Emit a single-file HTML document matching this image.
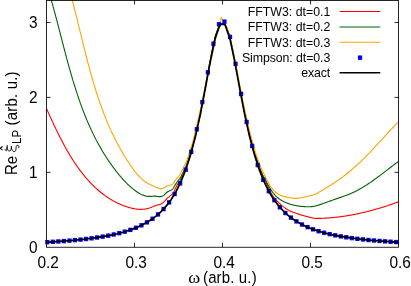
<!DOCTYPE html>
<html><head><meta charset="utf-8"><style>
html,body{margin:0;padding:0;background:#fff;}
svg{display:block;font-family:"Liberation Sans",sans-serif;will-change:transform;}
</style></head><body>
<svg width="411" height="286" viewBox="0 0 411 286">
<rect width="411" height="286" fill="#fff"/>
<defs><clipPath id="c"><rect x="46.5" y="0.0" width="352.0" height="247.25"/></clipPath></defs>
<g clip-path="url(#c)">
<path d="M46.57,108.59 L46.72,108.93 L46.87,109.27 L47.02,109.61 L47.17,109.95 L47.33,110.29 L47.48,110.64 L47.63,110.98 L47.79,111.32 L47.94,111.66 L48.09,112.01 L48.25,112.35 L48.40,112.70 L48.56,113.04 L48.71,113.39 L48.87,113.74 L49.02,114.08 L49.18,114.43 L49.34,114.78 L49.49,115.13 L49.65,115.48 L49.81,115.83 L49.97,116.18 L50.12,116.53 L50.28,116.88 L50.44,117.23 L50.60,117.58 L50.76,117.93 L50.92,118.28 L51.08,118.64 L51.24,118.99 L51.41,119.34 L51.57,119.70 L51.73,120.05 L51.89,120.40 L52.06,120.76 L52.22,121.11 L52.38,121.47 L52.55,121.82 L52.71,122.18 L52.88,122.54 L53.04,122.89 L53.21,123.25 L53.37,123.61 L53.54,123.96 L53.71,124.32 L53.88,124.68 L54.04,125.04 L54.21,125.40 L54.38,125.76 L54.55,126.11 L54.72,126.47 L54.89,126.83 L55.06,127.19 L55.23,127.55 L55.40,127.91 L55.57,128.27 L55.75,128.63 L55.92,128.99 L56.09,129.35 L56.27,129.71 L56.44,130.07 L56.61,130.44 L56.79,130.80 L56.96,131.16 L57.14,131.52 L57.32,131.88 L57.49,132.24 L57.67,132.60 L57.85,132.96 L58.03,133.33 L58.21,133.69 L58.39,134.05 L58.57,134.41 L58.75,134.77 L58.93,135.14 L59.11,135.50 L59.29,135.86 L59.47,136.22 L59.65,136.58 L59.84,136.94 L60.02,137.31 L60.21,137.67 L60.39,138.03 L60.58,138.39 L60.76,138.75 L60.95,139.12 L61.14,139.48 L61.32,139.84 L61.51,140.20 L61.70,140.56 L61.89,140.92 L62.08,141.29 L62.27,141.65 L62.46,142.01 L62.65,142.37 L62.84,142.73 L63.03,143.09 L63.23,143.45 L63.42,143.81 L63.61,144.17 L63.81,144.53 L64.00,144.89 L64.20,145.25 L64.39,145.61 L64.59,145.97 L64.79,146.33 L64.99,146.69 L65.18,147.05 L65.38,147.40 L65.58,147.76 L65.78,148.12 L65.98,148.48 L66.19,148.84 L66.39,149.19 L66.59,149.55 L66.79,149.91 L67.00,150.26 L67.20,150.62 L67.41,150.97 L67.61,151.33 L67.82,151.69 L68.02,152.04 L68.23,152.39 L68.44,152.75 L68.65,153.10 L68.86,153.46 L69.07,153.81 L69.28,154.16 L69.49,154.51 L69.70,154.87 L69.91,155.22 L70.13,155.57 L70.34,155.92 L70.55,156.27 L70.77,156.62 L70.98,156.97 L71.20,157.32 L71.42,157.67 L71.63,158.01 L71.85,158.36 L72.07,158.71 L72.29,159.06 L72.51,159.40 L72.73,159.75 L72.95,160.09 L73.17,160.44 L73.40,160.78 L73.62,161.13 L73.84,161.47 L74.07,161.81 L74.29,162.15 L74.52,162.50 L74.75,162.84 L74.98,163.18 L75.20,163.52 L75.43,163.86 L75.66,164.19 L75.89,164.53 L76.12,164.87 L76.36,165.21 L76.59,165.54 L76.82,165.88 L77.05,166.21 L77.29,166.55 L77.52,166.88 L77.76,167.21 L78.00,167.55 L78.23,167.88 L78.47,168.21 L78.71,168.54 L78.95,168.87 L79.19,169.20 L79.43,169.53 L79.67,169.85 L79.92,170.18 L80.16,170.51 L80.40,170.83 L80.65,171.16 L80.89,171.48 L81.14,171.80 L81.39,172.12 L81.64,172.45 L81.88,172.77 L82.13,173.09 L82.38,173.41 L82.63,173.72 L82.89,174.04 L83.14,174.36 L83.39,174.67 L83.64,174.99 L83.90,175.30 L84.16,175.62 L84.41,175.93 L84.67,176.24 L84.93,176.55 L85.18,176.86 L85.44,177.17 L85.70,177.48 L85.97,177.78 L86.23,178.09 L86.49,178.39 L86.75,178.70 L87.02,179.00 L87.28,179.30 L87.55,179.60 L87.82,179.90 L88.08,180.20 L88.35,180.50 L88.62,180.80 L88.89,181.10 L89.16,181.39 L89.43,181.69 L89.71,181.98 L89.98,182.27 L90.25,182.56 L90.53,182.85 L90.80,183.14 L91.08,183.43 L91.36,183.72 L91.64,184.00 L91.92,184.29 L92.20,184.57 L92.48,184.86 L92.76,185.14 L93.04,185.42 L93.32,185.70 L93.61,185.98 L93.89,186.25 L94.18,186.53 L94.47,186.80 L94.76,187.08 L95.04,187.35 L95.33,187.62 L95.62,187.89 L95.92,188.16 L96.21,188.43 L96.50,188.70 L96.80,188.96 L97.09,189.23 L97.39,189.49 L97.68,189.75 L97.98,190.01 L98.28,190.27 L98.58,190.53 L98.88,190.79 L99.18,191.04 L99.48,191.30 L99.79,191.55 L100.09,191.80 L100.40,192.05 L100.70,192.30 L101.01,192.55 L101.32,192.79 L101.63,193.04 L101.94,193.28 L102.25,193.53 L102.56,193.77 L102.87,194.01 L103.18,194.24 L103.50,194.48 L103.81,194.72 L104.13,194.95 L104.45,195.18 L104.77,195.42 L105.09,195.65 L105.41,195.87 L105.73,196.10 L106.05,196.33 L106.37,196.55 L106.70,196.77 L107.02,197.00 L107.35,197.22 L107.67,197.43 L108.00,197.65 L108.33,197.87 L108.66,198.08 L108.99,198.29 L109.32,198.50 L109.66,198.71 L109.99,198.92 L110.33,199.13 L110.66,199.33 L111.00,199.54 L111.34,199.74 L111.68,199.94 L112.02,200.14 L112.36,200.33 L112.70,200.53 L113.04,200.72 L113.39,200.92 L113.73,201.11 L114.08,201.30 L114.43,201.48 L114.77,201.67 L115.12,201.85 L115.47,202.04 L115.83,202.22 L116.18,202.40 L116.53,202.57 L116.89,202.75 L117.24,202.92 L117.60,203.10 L117.96,203.27 L118.31,203.43 L118.67,203.60 L119.04,203.77 L119.40,203.93 L119.76,204.09 L120.12,204.25 L120.49,204.41 L120.86,204.57 L121.22,204.72 L121.59,204.88 L121.96,205.03 L122.33,205.18 L122.70,205.33 L123.08,205.47 L123.45,205.62 L123.82,205.76 L124.20,205.90 L124.58,206.04 L124.96,206.18 L125.34,206.31 L125.72,206.45 L126.10,206.58 L126.48,206.71 L126.86,206.83 L127.25,206.96 L127.63,207.08 L128.02,207.20 L128.41,207.32 L128.79,207.43 L129.18,207.54 L129.57,207.65 L129.96,207.76 L130.35,207.87 L130.74,207.97 L131.13,208.07 L131.53,208.16 L131.92,208.25 L132.31,208.34 L132.71,208.43 L133.10,208.51 L133.50,208.59 L133.89,208.66 L134.29,208.74 L134.68,208.80 L135.08,208.87 L135.48,208.93 L135.87,208.99 L136.27,209.04 L136.67,209.09 L137.06,209.13 L137.46,209.17 L137.86,209.21 L138.25,209.24 L138.65,209.27 L139.05,209.29 L139.44,209.31 L139.84,209.33 L140.24,209.33 L140.63,209.34 L141.03,209.34 L141.42,209.33 L141.82,209.32 L142.22,209.31 L142.61,209.29 L143.00,209.26 L143.40,209.23 L143.79,209.20 L144.18,209.16 L144.58,209.11 L144.97,209.06 L145.36,209.00 L145.75,208.93 L146.14,208.86 L146.53,208.79 L146.92,208.71 L147.31,208.62 L147.69,208.53 L148.08,208.43 L148.47,208.32 L148.85,208.21 L149.23,208.09 L149.62,207.96 L150.00,207.83 L150.38,207.69 L150.76,207.55 L151.14,207.40 L151.51,207.24 L151.89,207.08 L152.27,206.92 L152.64,206.76 L153.01,206.59 L153.39,206.43 L153.76,206.27 L154.14,206.12 L154.51,205.96 L154.88,205.82 L155.25,205.68 L155.63,205.55 L156.00,205.43 L156.37,205.33 L156.75,205.23 L157.12,205.14 L157.49,205.06 L157.87,204.99 L158.24,204.91 L158.62,204.82 L159.00,204.73 L159.37,204.62 L159.75,204.49 L160.13,204.35 L160.50,204.19 L160.87,204.01 L161.24,203.82 L161.60,203.62 L161.94,203.40 L162.28,203.17 L162.61,202.94 L162.93,202.69 L163.23,202.43 L163.53,202.17 L163.82,201.90 L164.10,201.62 L164.38,201.34 L164.65,201.05 L164.92,200.76 L165.19,200.47 L165.46,200.18 L165.73,199.88 L166.00,199.59 L166.27,199.30 L166.54,199.01 L166.82,198.72 L167.11,198.44 L167.40,198.17 L167.70,197.90 L168.00,197.64 L168.31,197.38 L168.63,197.13 L168.94,196.88 L169.27,196.64 L169.59,196.39 L169.91,196.15 L170.23,195.90 L170.54,195.65 L170.85,195.40 L171.16,195.14 L171.45,194.88 L171.74,194.61 L172.01,194.33 L172.28,194.04 L172.53,193.74 L172.77,193.43 L172.99,193.11 L173.21,192.78 L173.42,192.44 L173.62,192.10 L173.81,191.75 L173.99,191.39 L174.18,191.04 L174.35,190.68 L174.53,190.31 L174.70,189.95 L174.88,189.59 L175.05,189.22 L175.22,188.86 L175.39,188.49 L175.56,188.13 L175.73,187.76 L175.90,187.40 L176.07,187.04 L176.25,186.68 L176.42,186.32 L176.60,185.96 L176.79,185.60 L176.97,185.25 L177.17,184.90 L177.36,184.55 L177.56,184.20 L177.77,183.86 L177.98,183.52 L178.20,183.19 L178.42,182.86 L178.65,182.53 L178.90,182.21 L179.15,181.89 L179.39,181.59 L179.59,181.42 L179.78,181.28 L180.10,180.80 L180.63,179.77 L181.29,178.41 L181.95,177.00 L182.61,175.63 L183.27,174.21 L183.92,172.79 L184.55,171.39 L185.17,169.99 L185.77,168.59 L186.34,167.19 L186.89,165.78 L187.41,164.38 L187.89,162.98 L188.34,161.58 L188.78,160.18 L189.22,158.77 L189.65,157.37 L190.08,155.97 L190.49,154.57 L190.90,153.17 L191.30,151.76 L191.70,150.36 L192.09,148.96 L192.47,147.56 L192.85,146.16 L193.22,144.75 L193.59,143.35 L193.95,141.95 L194.31,140.55 L194.66,139.15 L195.00,137.75 L195.35,136.34 L195.69,134.94 L196.02,133.54 L196.35,132.14 L196.67,130.74 L197.00,129.33 L197.32,127.93 L197.63,126.53 L197.94,125.13 L198.25,123.73 L198.56,122.32 L198.86,120.92 L199.16,119.52 L199.45,118.12 L199.74,116.72 L200.03,115.31 L200.32,113.91 L200.60,112.51 L200.89,111.11 L201.17,109.71 L201.44,108.30 L201.72,106.90 L201.99,105.50 L202.27,104.10 L202.54,102.70 L202.81,101.29 L203.07,99.89 L203.34,98.49 L203.60,97.09 L203.87,95.69 L204.13,94.28 L204.39,92.88 L204.65,91.48 L204.91,90.08 L205.17,88.68 L205.43,87.27 L205.69,85.87 L205.94,84.47 L206.20,83.07 L206.46,81.67 L206.71,80.26 L206.97,78.86 L207.23,77.46 L207.48,76.06 L207.74,74.66 L208.00,73.25 L208.25,71.85 L208.51,70.45 L208.77,69.05 L209.03,67.65 L209.29,66.25 L209.55,64.84 L209.81,63.44 L210.08,62.04 L210.34,60.64 L210.61,59.24 L210.88,57.83 L211.15,56.43 L211.43,55.03 L211.71,53.63 L211.99,52.23 L212.27,50.82 L212.56,49.42 L212.85,48.02 L213.15,46.62 L213.45,45.22 L213.76,43.81 L214.08,42.41 L214.41,41.01 L214.74,39.61 L215.09,38.21 L215.35,36.99 L215.62,35.78 L216.20,34.00 L217.26,30.92 L218.63,27.27 L220.10,24.66 L221.67,23.62 L223.33,23.62 L224.90,24.66 L226.37,27.27 L227.74,30.92 L228.80,34.00 L229.38,35.77 L229.65,36.98 L229.91,38.18 L230.26,39.57 L230.59,40.96 L230.91,42.35 L231.23,43.75 L231.54,45.14 L231.84,46.53 L232.14,47.92 L232.44,49.31 L232.72,50.71 L233.01,52.10 L233.29,53.49 L233.57,54.88 L233.84,56.27 L234.12,57.67 L234.39,59.06 L234.65,60.45 L234.92,61.84 L235.18,63.24 L235.45,64.63 L235.71,66.02 L235.97,67.41 L236.23,68.80 L236.48,70.20 L236.74,71.59 L237.00,72.98 L237.26,74.37 L237.51,75.76 L237.77,77.16 L238.02,78.55 L238.28,79.94 L238.54,81.33 L238.79,82.73 L239.05,84.12 L239.31,85.51 L239.56,86.90 L239.82,88.29 L240.08,89.69 L240.34,91.08 L240.60,92.47 L240.86,93.86 L241.12,95.25 L241.38,96.65 L241.65,98.04 L241.91,99.43 L242.18,100.82 L242.45,102.22 L242.72,103.61 L242.99,105.00 L243.26,106.39 L243.54,107.78 L243.82,109.18 L244.10,110.57 L244.38,111.96 L244.66,113.35 L244.94,114.75 L245.23,116.14 L245.52,117.53 L245.82,118.92 L246.12,120.31 L246.42,121.71 L246.73,123.10 L247.05,124.49 L247.37,125.88 L247.69,127.27 L248.02,128.67 L248.35,130.06 L248.68,131.45 L249.02,132.84 L249.36,134.24 L249.70,135.63 L250.05,137.02 L250.40,138.41 L250.76,139.80 L251.12,141.20 L251.49,142.59 L251.86,143.98 L252.24,145.37 L252.62,146.76 L253.01,148.16 L253.41,149.55 L253.82,150.94 L254.25,152.33 L254.70,153.73 L255.15,155.12 L255.61,156.51 L256.07,157.90 L256.54,159.29 L257.02,160.69 L257.51,162.08 L258.00,163.47 L258.51,164.86 L259.03,166.25 L259.55,167.65 L260.09,169.04 L260.63,170.43 L261.19,171.82 L261.76,173.22 L262.34,174.62 L262.94,176.00 L263.60,177.46 L264.28,178.90 L264.81,180.00 L265.08,180.55 L265.21,180.77 L265.34,181.00 L265.51,181.34 L265.69,181.68 L265.86,182.03 L266.03,182.38 L266.20,182.73 L266.37,183.09 L266.54,183.45 L266.71,183.81 L266.87,184.17 L267.04,184.53 L267.21,184.90 L267.37,185.27 L267.54,185.64 L267.71,186.01 L267.88,186.38 L268.05,186.75 L268.21,187.12 L268.38,187.50 L268.55,187.87 L268.72,188.24 L268.90,188.62 L269.07,188.99 L269.24,189.36 L269.42,189.74 L269.60,190.11 L269.78,190.48 L269.96,190.85 L270.14,191.21 L270.33,191.58 L270.51,191.94 L270.70,192.31 L270.89,192.67 L271.09,193.02 L271.28,193.38 L271.48,193.73 L271.68,194.08 L271.89,194.43 L272.10,194.77 L272.31,195.11 L272.52,195.45 L272.74,195.78 L272.96,196.11 L273.19,196.44 L273.42,196.76 L273.65,197.08 L273.88,197.39 L274.12,197.70 L274.37,198.00 L274.61,198.30 L274.86,198.60 L275.12,198.90 L275.37,199.19 L275.63,199.48 L275.90,199.77 L276.16,200.06 L276.43,200.35 L276.70,200.63 L276.98,200.91 L277.25,201.20 L277.53,201.48 L277.81,201.76 L278.09,202.04 L278.38,202.32 L278.67,202.60 L278.96,202.88 L279.25,203.16 L279.54,203.44 L279.84,203.72 L280.14,203.99 L280.44,204.26 L280.74,204.54 L281.05,204.81 L281.35,205.07 L281.66,205.34 L281.97,205.61 L282.29,205.87 L282.60,206.13 L282.92,206.38 L283.24,206.64 L283.56,206.89 L283.88,207.14 L284.21,207.38 L284.53,207.63 L284.86,207.86 L285.19,208.10 L285.53,208.33 L285.86,208.56 L286.20,208.79 L286.54,209.01 L286.88,209.22 L287.22,209.43 L287.56,209.64 L287.91,209.84 L288.26,210.04 L288.60,210.24 L288.96,210.43 L289.31,210.61 L289.66,210.79 L290.02,210.96 L290.37,211.13 L290.73,211.29 L291.09,211.45 L291.46,211.60 L291.82,211.75 L292.19,211.89 L292.55,212.03 L292.92,212.17 L293.29,212.31 L293.66,212.44 L294.03,212.57 L294.40,212.70 L294.78,212.82 L295.15,212.95 L295.53,213.08 L295.90,213.21 L296.28,213.34 L296.66,213.47 L297.04,213.60 L297.42,213.73 L297.80,213.85 L298.18,213.98 L298.56,214.11 L298.94,214.24 L299.33,214.37 L299.71,214.49 L300.09,214.62 L300.48,214.74 L300.86,214.86 L301.24,214.98 L301.63,215.10 L302.01,215.21 L302.39,215.32 L302.78,215.43 L303.16,215.53 L303.55,215.64 L303.93,215.74 L304.32,215.84 L304.70,215.94 L305.09,216.04 L305.47,216.14 L305.86,216.24 L306.25,216.34 L306.63,216.44 L307.02,216.54 L307.41,216.64 L307.80,216.74 L308.19,216.85 L308.58,216.95 L308.97,217.06 L309.36,217.16 L309.75,217.27 L310.14,217.37 L310.53,217.47 L310.93,217.57 L311.32,217.67 L311.71,217.76 L312.11,217.85 L312.50,217.93 L312.89,218.01 L313.29,218.08 L313.69,218.14 L314.08,218.20 L314.48,218.25 L314.87,218.29 L315.27,218.32 L315.67,218.35 L316.06,218.37 L316.46,218.39 L316.86,218.40 L317.25,218.41 L317.65,218.41 L318.05,218.41 L318.45,218.40 L318.85,218.40 L319.24,218.39 L319.64,218.38 L320.04,218.37 L320.44,218.36 L320.84,218.35 L321.23,218.33 L321.63,218.32 L322.03,218.31 L322.43,218.29 L322.83,218.27 L323.23,218.26 L323.62,218.24 L324.02,218.22 L324.42,218.20 L324.82,218.18 L325.22,218.16 L325.62,218.14 L326.02,218.11 L326.41,218.09 L326.81,218.07 L327.21,218.04 L327.61,218.01 L328.01,217.99 L328.41,217.96 L328.81,217.93 L329.20,217.90 L329.60,217.87 L330.00,217.84 L330.40,217.81 L330.80,217.77 L331.20,217.74 L331.60,217.70 L331.99,217.67 L332.39,217.63 L332.79,217.59 L333.19,217.56 L333.59,217.52 L333.99,217.48 L334.39,217.44 L334.78,217.40 L335.18,217.36 L335.58,217.31 L335.98,217.27 L336.38,217.23 L336.78,217.18 L337.17,217.13 L337.57,217.09 L337.97,217.04 L338.37,216.99 L338.77,216.94 L339.17,216.89 L339.56,216.84 L339.96,216.79 L340.36,216.74 L340.76,216.69 L341.16,216.63 L341.55,216.58 L341.95,216.53 L342.35,216.47 L342.75,216.41 L343.14,216.36 L343.54,216.30 L343.94,216.24 L344.34,216.18 L344.73,216.12 L345.13,216.06 L345.53,216.00 L345.92,215.94 L346.32,215.87 L346.72,215.81 L347.11,215.74 L347.51,215.68 L347.91,215.61 L348.30,215.55 L348.70,215.48 L349.10,215.41 L349.49,215.34 L349.89,215.27 L350.28,215.20 L350.68,215.13 L351.08,215.06 L351.47,214.99 L351.87,214.92 L352.26,214.84 L352.66,214.77 L353.05,214.70 L353.45,214.62 L353.84,214.54 L354.24,214.47 L354.63,214.39 L355.03,214.31 L355.42,214.23 L355.81,214.15 L356.21,214.07 L356.60,213.99 L357.00,213.91 L357.39,213.83 L357.78,213.75 L358.18,213.66 L358.57,213.58 L358.96,213.50 L359.36,213.41 L359.75,213.32 L360.14,213.24 L360.53,213.15 L360.93,213.06 L361.32,212.98 L361.71,212.89 L362.10,212.80 L362.49,212.71 L362.89,212.62 L363.28,212.52 L363.67,212.43 L364.06,212.34 L364.45,212.25 L364.84,212.15 L365.23,212.06 L365.62,211.96 L366.01,211.87 L366.40,211.77 L366.79,211.68 L367.18,211.58 L367.57,211.48 L367.96,211.38 L368.35,211.28 L368.74,211.18 L369.13,211.08 L369.51,210.98 L369.90,210.88 L370.29,210.78 L370.68,210.68 L371.07,210.57 L371.45,210.47 L371.84,210.37 L372.23,210.26 L372.61,210.16 L373.00,210.05 L373.39,209.95 L373.77,209.84 L374.16,209.73 L374.54,209.62 L374.93,209.52 L375.32,209.41 L375.70,209.30 L376.08,209.19 L376.47,209.08 L376.85,208.97 L377.24,208.86 L377.62,208.74 L378.00,208.63 L378.39,208.52 L378.77,208.40 L379.15,208.29 L379.54,208.18 L379.92,208.06 L380.30,207.95 L380.68,207.83 L381.06,207.71 L381.44,207.60 L381.82,207.48 L382.21,207.36 L382.59,207.24 L382.97,207.12 L383.35,207.00 L383.73,206.89 L384.10,206.77 L384.48,206.64 L384.86,206.52 L385.24,206.40 L385.62,206.28 L386.00,206.16 L386.37,206.03 L386.75,205.91 L387.13,205.79 L387.50,205.66 L387.88,205.54 L388.26,205.41 L388.63,205.29 L389.01,205.16 L389.38,205.03 L389.76,204.91 L390.13,204.78 L390.51,204.65 L390.88,204.52 L391.25,204.40 L391.63,204.27 L392.00,204.14 L392.37,204.01 L392.75,203.88 L393.12,203.75 L393.49,203.62 L393.86,203.48 L394.23,203.35 L394.60,203.22 L394.97,203.09 L395.34,202.96 L395.71,202.82 L396.08,202.69 L396.45,202.55 L396.82,202.42 L397.19,202.28 L397.59,202.13 L398.00,201.98 L398.29,201.88 L398.38,201.84 L398.35,201.85 L398.33,201.86" stroke="#ff0000" stroke-width="1.12" fill="none" stroke-linejoin="round"/>
<path d="M51.26,0.02 L51.37,0.40 L51.47,0.78 L51.58,1.15 L51.69,1.53 L51.79,1.91 L51.90,2.29 L52.01,2.66 L52.11,3.04 L52.22,3.42 L52.33,3.80 L52.43,4.18 L52.54,4.56 L52.64,4.93 L52.75,5.31 L52.86,5.69 L52.96,6.07 L53.07,6.45 L53.17,6.83 L53.28,7.21 L53.38,7.59 L53.48,7.97 L53.59,8.35 L53.69,8.73 L53.80,9.11 L53.90,9.50 L54.01,9.88 L54.11,10.26 L54.21,10.64 L54.32,11.02 L54.42,11.40 L54.52,11.78 L54.63,12.17 L54.73,12.55 L54.83,12.93 L54.93,13.31 L55.04,13.69 L55.14,14.08 L55.24,14.46 L55.34,14.84 L55.45,15.23 L55.55,15.61 L55.65,15.99 L55.75,16.37 L55.85,16.76 L55.96,17.14 L56.06,17.53 L56.16,17.91 L56.26,18.29 L56.36,18.68 L56.46,19.06 L56.57,19.45 L56.67,19.83 L56.77,20.21 L56.87,20.60 L56.97,20.98 L57.07,21.37 L57.17,21.75 L57.27,22.14 L57.37,22.52 L57.47,22.91 L57.57,23.29 L57.68,23.68 L57.78,24.07 L57.88,24.45 L57.98,24.84 L58.08,25.22 L58.18,25.61 L58.28,25.99 L58.38,26.38 L58.48,26.77 L58.58,27.15 L58.68,27.54 L58.78,27.93 L58.88,28.31 L58.98,28.70 L59.08,29.09 L59.18,29.47 L59.28,29.86 L59.38,30.25 L59.48,30.63 L59.58,31.02 L59.68,31.41 L59.78,31.80 L59.88,32.18 L59.98,32.57 L60.08,32.96 L60.18,33.35 L60.28,33.73 L60.38,34.12 L60.48,34.51 L60.58,34.90 L60.68,35.28 L60.78,35.67 L60.88,36.06 L60.98,36.45 L61.08,36.84 L61.18,37.22 L61.28,37.61 L61.38,38.00 L61.48,38.39 L61.58,38.78 L61.68,39.16 L61.78,39.55 L61.88,39.94 L61.98,40.33 L62.08,40.72 L62.18,41.11 L62.28,41.50 L62.38,41.88 L62.48,42.27 L62.58,42.66 L62.68,43.05 L62.79,43.44 L62.89,43.83 L62.99,44.22 L63.09,44.61 L63.19,44.99 L63.29,45.38 L63.39,45.77 L63.49,46.16 L63.59,46.55 L63.69,46.94 L63.80,47.33 L63.90,47.72 L64.00,48.11 L64.10,48.50 L64.20,48.88 L64.30,49.27 L64.41,49.66 L64.51,50.05 L64.61,50.44 L64.71,50.83 L64.81,51.22 L64.92,51.61 L65.02,52.00 L65.12,52.39 L65.22,52.78 L65.33,53.17 L65.43,53.55 L65.53,53.94 L65.64,54.33 L65.74,54.72 L65.84,55.11 L65.95,55.50 L66.05,55.89 L66.15,56.28 L66.26,56.67 L66.36,57.06 L66.47,57.45 L66.57,57.83 L66.67,58.22 L66.78,58.61 L66.88,59.00 L66.99,59.39 L67.09,59.78 L67.20,60.17 L67.30,60.56 L67.41,60.95 L67.51,61.33 L67.62,61.72 L67.73,62.11 L67.83,62.50 L67.94,62.89 L68.04,63.28 L68.15,63.67 L68.26,64.06 L68.36,64.44 L68.47,64.83 L68.58,65.22 L68.69,65.61 L68.79,66.00 L68.90,66.39 L69.01,66.77 L69.12,67.16 L69.23,67.55 L69.33,67.94 L69.44,68.33 L69.55,68.71 L69.66,69.10 L69.77,69.49 L69.88,69.88 L69.99,70.27 L70.10,70.65 L70.21,71.04 L70.32,71.43 L70.43,71.82 L70.54,72.20 L70.65,72.59 L70.76,72.98 L70.87,73.37 L70.98,73.75 L71.10,74.14 L71.21,74.53 L71.32,74.91 L71.43,75.30 L71.55,75.69 L71.66,76.07 L71.77,76.46 L71.89,76.85 L72.00,77.23 L72.11,77.62 L72.23,78.01 L72.34,78.39 L72.46,78.78 L72.57,79.16 L72.69,79.55 L72.80,79.94 L72.92,80.32 L73.03,80.71 L73.15,81.09 L73.26,81.48 L73.38,81.86 L73.50,82.25 L73.62,82.63 L73.73,83.02 L73.85,83.40 L73.97,83.79 L74.09,84.17 L74.21,84.56 L74.32,84.94 L74.44,85.33 L74.56,85.71 L74.68,86.10 L74.80,86.48 L74.92,86.86 L75.04,87.25 L75.16,87.63 L75.29,88.01 L75.41,88.40 L75.53,88.78 L75.65,89.16 L75.77,89.55 L75.90,89.93 L76.02,90.31 L76.14,90.70 L76.27,91.08 L76.39,91.46 L76.51,91.84 L76.64,92.23 L76.76,92.61 L76.89,92.99 L77.01,93.37 L77.14,93.75 L77.27,94.13 L77.39,94.52 L77.52,94.90 L77.65,95.28 L77.78,95.66 L77.90,96.04 L78.03,96.42 L78.16,96.80 L78.29,97.18 L78.42,97.56 L78.55,97.94 L78.68,98.32 L78.81,98.70 L78.94,99.08 L79.07,99.46 L79.20,99.84 L79.33,100.22 L79.47,100.60 L79.60,100.97 L79.73,101.35 L79.86,101.73 L80.00,102.11 L80.13,102.49 L80.27,102.86 L80.40,103.24 L80.54,103.62 L80.67,104.00 L80.81,104.37 L80.95,104.75 L81.08,105.13 L81.22,105.50 L81.36,105.88 L81.50,106.26 L81.63,106.63 L81.77,107.01 L81.91,107.38 L82.05,107.76 L82.19,108.13 L82.33,108.51 L82.47,108.88 L82.61,109.26 L82.76,109.63 L82.90,110.01 L83.04,110.38 L83.18,110.76 L83.33,111.13 L83.47,111.50 L83.61,111.88 L83.76,112.25 L83.90,112.62 L84.05,112.99 L84.20,113.37 L84.34,113.74 L84.49,114.11 L84.64,114.48 L84.78,114.85 L84.93,115.23 L85.08,115.60 L85.23,115.97 L85.38,116.34 L85.53,116.71 L85.68,117.08 L85.83,117.45 L85.98,117.82 L86.14,118.19 L86.29,118.56 L86.44,118.93 L86.59,119.30 L86.75,119.66 L86.90,120.03 L87.06,120.40 L87.21,120.77 L87.37,121.14 L87.52,121.50 L87.68,121.87 L87.84,122.24 L88.00,122.60 L88.15,122.97 L88.31,123.34 L88.47,123.70 L88.63,124.07 L88.79,124.43 L88.95,124.80 L89.11,125.16 L89.28,125.53 L89.44,125.89 L89.60,126.26 L89.76,126.62 L89.93,126.99 L90.09,127.35 L90.26,127.71 L90.42,128.07 L90.59,128.44 L90.76,128.80 L90.92,129.16 L91.09,129.52 L91.26,129.88 L91.43,130.25 L91.60,130.61 L91.76,130.97 L91.94,131.33 L92.11,131.69 L92.28,132.05 L92.45,132.41 L92.62,132.77 L92.79,133.13 L92.97,133.49 L93.14,133.84 L93.32,134.20 L93.49,134.56 L93.67,134.92 L93.84,135.27 L94.02,135.63 L94.20,135.99 L94.38,136.34 L94.56,136.70 L94.73,137.06 L94.91,137.41 L95.09,137.77 L95.28,138.12 L95.46,138.48 L95.64,138.83 L95.82,139.19 L96.01,139.54 L96.19,139.89 L96.37,140.25 L96.56,140.60 L96.74,140.95 L96.93,141.30 L97.12,141.66 L97.31,142.01 L97.49,142.36 L97.68,142.71 L97.87,143.06 L98.06,143.41 L98.25,143.76 L98.44,144.11 L98.64,144.46 L98.83,144.81 L99.02,145.16 L99.21,145.50 L99.41,145.85 L99.60,146.20 L99.80,146.55 L100.00,146.89 L100.19,147.24 L100.39,147.59 L100.59,147.93 L100.79,148.28 L100.99,148.62 L101.19,148.97 L101.39,149.31 L101.59,149.66 L101.79,150.00 L101.99,150.35 L102.20,150.69 L102.40,151.03 L102.61,151.37 L102.81,151.72 L103.02,152.06 L103.22,152.40 L103.43,152.74 L103.64,153.08 L103.85,153.42 L104.06,153.76 L104.27,154.10 L104.48,154.44 L104.69,154.78 L104.90,155.12 L105.12,155.46 L105.33,155.79 L105.54,156.13 L105.76,156.47 L105.97,156.81 L106.19,157.14 L106.41,157.48 L106.63,157.81 L106.84,158.15 L107.06,158.48 L107.28,158.82 L107.50,159.15 L107.73,159.49 L107.95,159.82 L108.17,160.15 L108.39,160.49 L108.62,160.82 L108.84,161.15 L109.07,161.48 L109.30,161.81 L109.52,162.14 L109.75,162.47 L109.98,162.80 L110.21,163.13 L110.44,163.46 L110.67,163.79 L110.90,164.12 L111.13,164.44 L111.37,164.77 L111.60,165.10 L111.83,165.43 L112.07,165.75 L112.31,166.08 L112.54,166.40 L112.78,166.73 L113.02,167.05 L113.26,167.38 L113.50,167.70 L113.74,168.02 L113.98,168.35 L114.22,168.67 L114.47,168.99 L114.71,169.31 L114.95,169.63 L115.20,169.95 L115.45,170.27 L115.69,170.59 L115.94,170.91 L116.19,171.23 L116.44,171.55 L116.69,171.87 L116.94,172.19 L117.19,172.50 L117.44,172.82 L117.70,173.14 L117.95,173.45 L118.21,173.77 L118.46,174.08 L118.72,174.40 L118.98,174.71 L119.24,175.02 L119.49,175.34 L119.76,175.65 L120.02,175.96 L120.28,176.27 L120.54,176.58 L120.81,176.89 L121.07,177.19 L121.34,177.50 L121.60,177.81 L121.87,178.11 L122.14,178.42 L122.41,178.72 L122.68,179.02 L122.95,179.32 L123.23,179.62 L123.50,179.92 L123.78,180.22 L124.05,180.52 L124.33,180.82 L124.61,181.11 L124.89,181.41 L125.17,181.70 L125.45,181.99 L125.73,182.28 L126.02,182.57 L126.30,182.86 L126.59,183.14 L126.87,183.43 L127.16,183.71 L127.45,184.00 L127.74,184.28 L128.04,184.56 L128.33,184.84 L128.62,185.11 L128.92,185.39 L129.22,185.66 L129.51,185.93 L129.81,186.21 L130.12,186.48 L130.42,186.74 L130.72,187.01 L131.03,187.27 L131.33,187.54 L131.64,187.80 L131.95,188.06 L132.26,188.31 L132.57,188.57 L132.88,188.82 L133.20,189.08 L133.51,189.33 L133.83,189.57 L134.15,189.82 L134.47,190.07 L134.79,190.31 L135.11,190.55 L135.44,190.79 L135.76,191.02 L136.09,191.26 L136.42,191.49 L136.75,191.72 L137.08,191.94 L137.42,192.17 L137.75,192.39 L138.09,192.60 L138.43,192.81 L138.77,193.02 L139.11,193.22 L139.45,193.42 L139.79,193.62 L140.14,193.81 L140.49,193.99 L140.84,194.17 L141.19,194.35 L141.54,194.52 L141.89,194.68 L142.25,194.84 L142.61,194.99 L142.97,195.13 L143.33,195.27 L143.69,195.40 L144.05,195.53 L144.42,195.64 L144.79,195.75 L145.16,195.86 L145.53,195.95 L145.90,196.04 L146.28,196.11 L146.65,196.18 L147.03,196.24 L147.41,196.30 L147.79,196.34 L148.18,196.37 L148.56,196.40 L148.95,196.41 L149.34,196.42 L149.73,196.41 L150.12,196.40 L150.52,196.39 L150.91,196.36 L151.31,196.34 L151.71,196.31 L152.11,196.27 L152.51,196.24 L152.91,196.20 L153.31,196.16 L153.71,196.14 L154.12,196.11 L154.52,196.10 L154.92,196.11 L155.33,196.13 L155.73,196.17 L156.14,196.22 L156.54,196.28 L156.95,196.35 L157.35,196.41 L157.75,196.47 L158.16,196.52 L158.56,196.56 L158.96,196.59 L159.36,196.61 L159.75,196.61 L160.15,196.59 L160.54,196.57 L160.92,196.52 L161.30,196.45 L161.68,196.37 L162.05,196.26 L162.41,196.13 L162.76,195.97 L163.10,195.79 L163.43,195.58 L163.75,195.35 L164.06,195.10 L164.35,194.82 L164.64,194.53 L164.93,194.23 L165.22,193.92 L165.50,193.61 L165.79,193.31 L166.09,193.03 L166.39,192.75 L166.71,192.49 L167.03,192.24 L167.36,192.01 L167.69,191.79 L168.03,191.58 L168.38,191.39 L168.74,191.20 L169.09,191.03 L169.46,190.87 L169.82,190.71 L170.18,190.56 L170.54,190.41 L170.89,190.25 L171.23,190.08 L171.56,189.89 L171.87,189.67 L172.16,189.42 L172.43,189.15 L172.69,188.86 L172.94,188.55 L173.17,188.22 L173.39,187.88 L173.61,187.53 L173.81,187.17 L174.02,186.81 L174.23,186.45 L174.43,186.09 L174.64,185.73 L174.85,185.38 L175.06,185.04 L175.27,184.70 L175.49,184.36 L175.71,184.02 L175.93,183.69 L176.15,183.36 L176.38,183.04 L176.61,182.71 L176.84,182.39 L177.07,182.07 L177.31,181.76 L177.55,181.44 L177.79,181.13 L178.04,180.82 L178.29,180.51 L178.54,180.21 L178.80,179.90 L179.07,179.58 L179.34,179.26 L179.58,178.98 L179.72,178.89 L179.83,178.83 L180.10,178.40 L180.64,177.36 L181.35,175.94 L182.06,174.50 L182.73,173.14 L183.42,171.75 L184.10,170.37 L184.75,168.99 L185.40,167.61 L185.99,166.24 L186.50,164.86 L186.96,163.48 L187.41,162.10 L187.87,160.73 L188.32,159.35 L188.76,157.97 L189.20,156.59 L189.63,155.22 L190.05,153.84 L190.46,152.46 L190.87,151.08 L191.27,149.71 L191.66,148.33 L192.05,146.95 L192.43,145.57 L192.81,144.20 L193.18,142.82 L193.55,141.44 L193.91,140.06 L194.27,138.69 L194.63,137.31 L194.98,135.93 L195.32,134.55 L195.66,133.18 L196.00,131.80 L196.34,130.42 L196.67,129.04 L196.99,127.67 L197.32,126.29 L197.64,124.91 L197.96,123.53 L198.27,122.16 L198.58,120.78 L198.88,119.40 L199.17,118.02 L199.46,116.65 L199.75,115.27 L200.03,113.89 L200.31,112.51 L200.59,111.14 L200.87,109.76 L201.14,108.38 L201.41,107.00 L201.69,105.63 L201.96,104.25 L202.22,102.87 L202.49,101.50 L202.75,100.12 L203.02,98.74 L203.28,97.36 L203.54,95.99 L203.80,94.61 L204.06,93.23 L204.32,91.85 L204.57,90.48 L204.83,89.10 L205.09,87.72 L205.34,86.34 L205.59,84.97 L205.85,83.59 L206.10,82.21 L206.36,80.83 L206.61,79.46 L206.86,78.08 L207.12,76.70 L207.37,75.32 L207.62,73.95 L207.88,72.57 L208.13,71.19 L208.39,69.81 L208.64,68.44 L208.90,67.06 L209.16,65.68 L209.42,64.30 L209.68,62.93 L209.94,61.55 L210.20,60.17 L210.47,58.79 L210.73,57.42 L211.00,56.04 L211.28,54.66 L211.55,53.28 L211.83,51.91 L212.11,50.53 L212.40,49.15 L212.69,47.77 L212.98,46.40 L213.28,45.02 L213.59,43.64 L213.91,42.26 L214.23,40.89 L214.56,39.51 L214.90,38.13 L215.15,36.95 L215.41,35.76 L216.00,34.00 L217.12,30.93 L218.57,27.27 L220.10,24.66 L221.67,23.62 L223.33,23.62 L224.90,24.66 L226.43,27.27 L227.88,30.93 L229.00,34.00 L229.59,35.77 L229.85,36.96 L230.10,38.15 L230.45,39.53 L230.78,40.91 L231.10,42.29 L231.42,43.68 L231.72,45.06 L232.03,46.44 L232.32,47.82 L232.61,49.21 L232.90,50.59 L233.18,51.97 L233.46,53.35 L233.74,54.74 L234.01,56.12 L234.28,57.50 L234.55,58.88 L234.82,60.26 L235.08,61.65 L235.34,63.03 L235.61,64.41 L235.86,65.79 L236.12,67.18 L236.38,68.56 L236.64,69.94 L236.89,71.32 L237.15,72.71 L237.40,74.09 L237.66,75.47 L237.91,76.85 L238.17,78.24 L238.42,79.62 L238.67,81.00 L238.93,82.38 L239.18,83.76 L239.44,85.15 L239.69,86.53 L239.95,87.91 L240.21,89.29 L240.46,90.68 L240.72,92.06 L240.98,93.44 L241.24,94.82 L241.50,96.21 L241.76,97.59 L242.03,98.97 L242.29,100.35 L242.56,101.74 L242.82,103.12 L243.09,104.50 L243.36,105.88 L243.64,107.26 L243.91,108.65 L244.19,110.03 L244.46,111.41 L244.75,112.79 L245.03,114.18 L245.31,115.56 L245.60,116.94 L245.89,118.32 L246.19,119.71 L246.49,121.09 L246.81,122.47 L247.14,123.85 L247.46,125.24 L247.79,126.62 L248.13,128.00 L248.46,129.38 L248.80,130.76 L249.15,132.15 L249.50,133.53 L249.85,134.91 L250.20,136.29 L250.56,137.68 L250.93,139.06 L251.29,140.44 L251.67,141.82 L252.04,143.21 L252.43,144.59 L252.82,145.97 L253.21,147.35 L253.61,148.74 L254.01,150.12 L254.42,151.50 L254.84,152.88 L255.27,154.26 L255.70,155.65 L256.14,157.03 L256.58,158.41 L257.03,159.79 L257.50,161.18 L257.97,162.56 L258.44,163.94 L258.93,165.32 L259.43,166.71 L259.94,168.09 L260.45,169.47 L260.98,170.85 L261.51,172.24 L262.04,173.63 L262.64,175.00 L263.42,176.45 L264.26,177.89 L264.91,179.00 L265.22,179.56 L265.34,179.79 L265.46,180.02 L265.64,180.37 L265.82,180.71 L266.00,181.06 L266.19,181.41 L266.37,181.75 L266.56,182.10 L266.74,182.46 L266.93,182.81 L267.12,183.16 L267.31,183.51 L267.50,183.86 L267.69,184.22 L267.88,184.57 L268.08,184.93 L268.27,185.28 L268.47,185.63 L268.67,185.98 L268.87,186.34 L269.07,186.69 L269.28,187.04 L269.48,187.39 L269.69,187.74 L269.90,188.09 L270.11,188.43 L270.33,188.78 L270.54,189.12 L270.76,189.47 L270.98,189.81 L271.20,190.15 L271.43,190.49 L271.66,190.82 L271.89,191.15 L272.12,191.49 L272.35,191.81 L272.59,192.14 L272.83,192.47 L273.08,192.79 L273.32,193.10 L273.57,193.42 L273.82,193.73 L274.08,194.04 L274.34,194.35 L274.60,194.65 L274.86,194.95 L275.13,195.25 L275.40,195.54 L275.68,195.82 L275.96,196.11 L276.24,196.39 L276.52,196.66 L276.81,196.93 L277.11,197.20 L277.40,197.46 L277.71,197.72 L278.01,197.97 L278.32,198.22 L278.63,198.46 L278.95,198.70 L279.27,198.94 L279.59,199.17 L279.91,199.39 L280.24,199.61 L280.58,199.83 L280.91,200.04 L281.25,200.25 L281.59,200.45 L281.94,200.65 L282.28,200.85 L282.63,201.04 L282.99,201.23 L283.34,201.41 L283.70,201.59 L284.06,201.77 L284.42,201.94 L284.78,202.11 L285.15,202.27 L285.52,202.43 L285.88,202.59 L286.26,202.74 L286.63,202.89 L287.00,203.04 L287.38,203.19 L287.76,203.33 L288.13,203.46 L288.51,203.60 L288.89,203.73 L289.27,203.86 L289.66,203.98 L290.04,204.10 L290.43,204.22 L290.81,204.34 L291.20,204.45 L291.58,204.56 L291.97,204.67 L292.36,204.77 L292.75,204.87 L293.14,204.97 L293.53,205.06 L293.93,205.16 L294.32,205.24 L294.71,205.33 L295.10,205.42 L295.50,205.50 L295.89,205.57 L296.29,205.65 L296.69,205.72 L297.08,205.79 L297.48,205.86 L297.88,205.92 L298.27,205.99 L298.67,206.05 L299.07,206.10 L299.47,206.16 L299.87,206.21 L300.26,206.26 L300.66,206.31 L301.06,206.35 L301.46,206.39 L301.86,206.43 L302.26,206.47 L302.66,206.51 L303.06,206.54 L303.46,206.57 L303.86,206.60 L304.25,206.62 L304.65,206.65 L305.05,206.67 L305.45,206.69 L305.85,206.70 L306.25,206.72 L306.64,206.73 L307.04,206.74 L307.44,206.75 L307.83,206.76 L308.23,206.76 L308.62,206.76 L309.02,206.76 L309.41,206.75 L309.81,206.74 L310.20,206.72 L310.60,206.70 L310.99,206.68 L311.38,206.65 L311.77,206.61 L312.17,206.57 L312.56,206.52 L312.95,206.47 L313.34,206.41 L313.73,206.34 L314.12,206.27 L314.51,206.18 L314.90,206.10 L315.29,206.00 L315.67,205.90 L316.06,205.80 L316.45,205.69 L316.84,205.58 L317.22,205.47 L317.61,205.35 L318.00,205.23 L318.38,205.11 L318.77,204.99 L319.15,204.86 L319.54,204.74 L319.92,204.61 L320.30,204.49 L320.69,204.36 L321.07,204.23 L321.45,204.10 L321.83,203.97 L322.22,203.84 L322.60,203.71 L322.98,203.58 L323.36,203.45 L323.74,203.32 L324.12,203.18 L324.50,203.05 L324.88,202.91 L325.25,202.78 L325.63,202.64 L326.01,202.51 L326.39,202.37 L326.77,202.24 L327.14,202.10 L327.52,201.96 L327.90,201.83 L328.27,201.69 L328.65,201.56 L329.02,201.42 L329.40,201.28 L329.77,201.15 L330.15,201.01 L330.52,200.87 L330.89,200.74 L331.27,200.60 L331.64,200.46 L332.01,200.33 L332.38,200.19 L332.76,200.06 L333.13,199.92 L333.50,199.79 L333.87,199.66 L334.24,199.52 L334.61,199.39 L334.98,199.26 L335.35,199.13 L335.72,199.00 L336.09,198.87 L336.46,198.74 L336.83,198.61 L337.19,198.48 L337.56,198.36 L337.93,198.23 L338.30,198.10 L338.67,197.98 L339.03,197.85 L339.40,197.73 L339.77,197.60 L340.13,197.48 L340.50,197.35 L340.86,197.23 L341.23,197.10 L341.59,196.98 L341.96,196.85 L342.32,196.72 L342.69,196.60 L343.05,196.47 L343.42,196.34 L343.78,196.21 L344.14,196.09 L344.51,195.96 L344.87,195.83 L345.23,195.69 L345.59,195.56 L345.96,195.43 L346.32,195.30 L346.68,195.16 L347.04,195.02 L347.40,194.89 L347.76,194.75 L348.13,194.61 L348.49,194.46 L348.85,194.32 L349.21,194.18 L349.57,194.03 L349.93,193.88 L350.29,193.73 L350.65,193.58 L351.01,193.43 L351.37,193.27 L351.73,193.11 L352.08,192.95 L352.44,192.79 L352.80,192.62 L353.16,192.46 L353.52,192.29 L353.88,192.12 L354.23,191.95 L354.59,191.77 L354.95,191.60 L355.30,191.42 L355.66,191.24 L356.02,191.06 L356.37,190.88 L356.73,190.69 L357.09,190.51 L357.44,190.32 L357.80,190.13 L358.15,189.94 L358.51,189.74 L358.86,189.55 L359.22,189.35 L359.57,189.15 L359.92,188.95 L360.28,188.75 L360.63,188.55 L360.98,188.35 L361.34,188.14 L361.69,187.94 L362.04,187.73 L362.39,187.52 L362.74,187.31 L363.09,187.10 L363.45,186.88 L363.80,186.67 L364.15,186.45 L364.50,186.23 L364.85,186.02 L365.19,185.80 L365.54,185.58 L365.89,185.35 L366.24,185.13 L366.59,184.91 L366.93,184.68 L367.28,184.46 L367.63,184.23 L367.97,184.00 L368.32,183.77 L368.67,183.54 L369.01,183.31 L369.36,183.08 L369.70,182.85 L370.04,182.61 L370.39,182.38 L370.73,182.14 L371.07,181.91 L371.42,181.67 L371.76,181.43 L372.10,181.20 L372.44,180.96 L372.78,180.72 L373.12,180.48 L373.46,180.24 L373.80,180.00 L374.14,179.75 L374.48,179.51 L374.82,179.27 L375.15,179.03 L375.49,178.78 L375.83,178.54 L376.16,178.29 L376.50,178.05 L376.83,177.80 L377.17,177.56 L377.50,177.31 L377.84,177.07 L378.17,176.82 L378.50,176.57 L378.84,176.33 L379.17,176.08 L379.50,175.83 L379.83,175.59 L380.16,175.34 L380.49,175.09 L380.82,174.84 L381.15,174.59 L381.48,174.35 L381.80,174.10 L382.13,173.85 L382.46,173.60 L382.78,173.36 L383.11,173.11 L383.43,172.86 L383.76,172.61 L384.08,172.37 L384.40,172.12 L384.73,171.87 L385.05,171.63 L385.37,171.38 L385.69,171.13 L386.01,170.89 L386.33,170.64 L386.65,170.40 L386.97,170.15 L387.29,169.91 L387.60,169.67 L387.92,169.42 L388.24,169.18 L388.55,168.94 L388.87,168.70 L389.18,168.45 L389.49,168.21 L389.81,167.97 L390.12,167.73 L390.43,167.50 L390.74,167.26 L391.05,167.02 L391.36,166.78 L391.67,166.55 L391.98,166.31 L392.29,166.08 L392.59,165.84 L392.90,165.61 L393.21,165.38 L393.51,165.15 L393.81,164.92 L394.12,164.69 L394.42,164.46 L394.72,164.23 L395.02,164.01 L395.33,163.78 L395.63,163.56 L395.92,163.33 L396.22,163.11 L396.52,162.89 L396.82,162.67 L397.11,162.45 L397.43,162.22 L397.75,161.99 L398.00,161.80 L398.15,161.70 L398.24,161.63 L398.32,161.57" stroke="#006400" stroke-width="1.12" fill="none" stroke-linejoin="round"/>
<path d="M72.19,-0.01 L72.30,0.38 L72.40,0.76 L72.50,1.15 L72.60,1.54 L72.70,1.93 L72.81,2.32 L72.91,2.71 L73.01,3.09 L73.11,3.48 L73.21,3.87 L73.31,4.26 L73.41,4.65 L73.51,5.04 L73.61,5.43 L73.71,5.81 L73.81,6.20 L73.91,6.59 L74.01,6.98 L74.11,7.37 L74.21,7.76 L74.31,8.15 L74.41,8.54 L74.51,8.93 L74.61,9.31 L74.71,9.70 L74.81,10.09 L74.91,10.48 L75.01,10.87 L75.10,11.26 L75.20,11.65 L75.30,12.04 L75.40,12.43 L75.50,12.82 L75.59,13.21 L75.69,13.60 L75.79,13.98 L75.89,14.37 L75.98,14.76 L76.08,15.15 L76.18,15.54 L76.28,15.93 L76.37,16.32 L76.47,16.71 L76.57,17.10 L76.66,17.49 L76.76,17.88 L76.86,18.27 L76.95,18.66 L77.05,19.05 L77.15,19.44 L77.24,19.83 L77.34,20.22 L77.43,20.61 L77.53,21.00 L77.63,21.39 L77.72,21.77 L77.82,22.16 L77.91,22.55 L78.01,22.94 L78.11,23.33 L78.20,23.72 L78.30,24.11 L78.39,24.50 L78.49,24.89 L78.58,25.28 L78.68,25.67 L78.77,26.06 L78.87,26.45 L78.97,26.84 L79.06,27.23 L79.16,27.62 L79.25,28.01 L79.35,28.40 L79.44,28.79 L79.54,29.18 L79.63,29.57 L79.73,29.96 L79.82,30.35 L79.92,30.74 L80.01,31.13 L80.11,31.52 L80.20,31.91 L80.30,32.29 L80.39,32.68 L80.49,33.07 L80.58,33.46 L80.68,33.85 L80.77,34.24 L80.87,34.63 L80.96,35.02 L81.06,35.41 L81.15,35.80 L81.25,36.19 L81.34,36.58 L81.44,36.97 L81.53,37.36 L81.63,37.75 L81.72,38.14 L81.82,38.53 L81.92,38.91 L82.01,39.30 L82.11,39.69 L82.20,40.08 L82.30,40.47 L82.39,40.86 L82.49,41.25 L82.58,41.64 L82.68,42.03 L82.77,42.42 L82.87,42.81 L82.97,43.19 L83.06,43.58 L83.16,43.97 L83.25,44.36 L83.35,44.75 L83.45,45.14 L83.54,45.53 L83.64,45.92 L83.74,46.30 L83.83,46.69 L83.93,47.08 L84.02,47.47 L84.12,47.86 L84.22,48.25 L84.31,48.64 L84.41,49.02 L84.51,49.41 L84.61,49.80 L84.70,50.19 L84.80,50.58 L84.90,50.97 L85.00,51.35 L85.09,51.74 L85.19,52.13 L85.29,52.52 L85.39,52.91 L85.48,53.29 L85.58,53.68 L85.68,54.07 L85.78,54.46 L85.88,54.84 L85.98,55.23 L86.08,55.62 L86.17,56.01 L86.27,56.39 L86.37,56.78 L86.47,57.17 L86.57,57.56 L86.67,57.94 L86.77,58.33 L86.87,58.72 L86.97,59.10 L87.07,59.49 L87.17,59.88 L87.27,60.27 L87.37,60.65 L87.47,61.04 L87.57,61.43 L87.67,61.81 L87.77,62.20 L87.88,62.59 L87.98,62.97 L88.08,63.36 L88.18,63.74 L88.28,64.13 L88.39,64.52 L88.49,64.90 L88.59,65.29 L88.69,65.67 L88.80,66.06 L88.90,66.45 L89.00,66.83 L89.11,67.22 L89.21,67.60 L89.31,67.99 L89.42,68.37 L89.52,68.76 L89.63,69.14 L89.73,69.53 L89.84,69.91 L89.94,70.30 L90.05,70.68 L90.15,71.07 L90.26,71.45 L90.36,71.84 L90.47,72.22 L90.58,72.61 L90.68,72.99 L90.79,73.38 L90.90,73.76 L91.00,74.15 L91.11,74.53 L91.22,74.91 L91.33,75.30 L91.43,75.68 L91.54,76.06 L91.65,76.45 L91.76,76.83 L91.87,77.21 L91.98,77.60 L92.09,77.98 L92.20,78.36 L92.31,78.75 L92.42,79.13 L92.53,79.51 L92.64,79.90 L92.75,80.28 L92.86,80.66 L92.98,81.04 L93.09,81.43 L93.20,81.81 L93.31,82.19 L93.43,82.57 L93.54,82.95 L93.65,83.34 L93.77,83.72 L93.88,84.10 L93.99,84.48 L94.11,84.86 L94.22,85.24 L94.34,85.62 L94.45,86.01 L94.57,86.39 L94.68,86.77 L94.80,87.15 L94.92,87.53 L95.03,87.91 L95.15,88.29 L95.27,88.67 L95.39,89.05 L95.51,89.43 L95.62,89.81 L95.74,90.19 L95.86,90.57 L95.98,90.95 L96.10,91.33 L96.22,91.71 L96.34,92.09 L96.46,92.47 L96.58,92.85 L96.70,93.22 L96.83,93.60 L96.95,93.98 L97.07,94.36 L97.19,94.74 L97.32,95.12 L97.44,95.49 L97.56,95.87 L97.69,96.25 L97.81,96.63 L97.94,97.01 L98.06,97.38 L98.19,97.76 L98.31,98.14 L98.44,98.51 L98.57,98.89 L98.69,99.27 L98.82,99.65 L98.95,100.02 L99.08,100.40 L99.21,100.77 L99.34,101.15 L99.46,101.53 L99.59,101.90 L99.72,102.28 L99.85,102.65 L99.99,103.03 L100.12,103.40 L100.25,103.78 L100.38,104.15 L100.51,104.53 L100.65,104.90 L100.78,105.28 L100.91,105.65 L101.05,106.03 L101.18,106.40 L101.32,106.78 L101.45,107.15 L101.59,107.52 L101.72,107.90 L101.86,108.27 L102.00,108.64 L102.13,109.02 L102.27,109.39 L102.41,109.76 L102.55,110.13 L102.69,110.51 L102.83,110.88 L102.97,111.25 L103.11,111.62 L103.25,111.99 L103.39,112.37 L103.53,112.74 L103.68,113.11 L103.82,113.48 L103.96,113.85 L104.10,114.22 L104.25,114.59 L104.39,114.96 L104.54,115.33 L104.68,115.70 L104.83,116.07 L104.98,116.44 L105.12,116.81 L105.27,117.18 L105.42,117.55 L105.57,117.92 L105.72,118.29 L105.86,118.66 L106.01,119.03 L106.16,119.40 L106.32,119.76 L106.47,120.13 L106.62,120.50 L106.77,120.87 L106.92,121.24 L107.08,121.60 L107.23,121.97 L107.38,122.34 L107.54,122.70 L107.69,123.07 L107.85,123.44 L108.01,123.80 L108.16,124.17 L108.32,124.54 L108.48,124.90 L108.64,125.27 L108.80,125.63 L108.95,126.00 L109.11,126.36 L109.28,126.73 L109.44,127.09 L109.60,127.46 L109.76,127.82 L109.92,128.19 L110.09,128.55 L110.25,128.91 L110.41,129.28 L110.58,129.64 L110.74,130.00 L110.91,130.37 L111.08,130.73 L111.24,131.09 L111.41,131.45 L111.58,131.82 L111.75,132.18 L111.92,132.54 L112.09,132.90 L112.26,133.26 L112.43,133.62 L112.60,133.99 L112.77,134.35 L112.94,134.71 L113.12,135.07 L113.29,135.43 L113.46,135.79 L113.64,136.15 L113.81,136.51 L113.99,136.87 L114.17,137.23 L114.34,137.58 L114.52,137.94 L114.70,138.30 L114.88,138.66 L115.06,139.02 L115.24,139.38 L115.42,139.73 L115.60,140.09 L115.78,140.45 L115.97,140.81 L116.15,141.16 L116.33,141.52 L116.52,141.87 L116.70,142.23 L116.89,142.59 L117.08,142.94 L117.26,143.30 L117.45,143.65 L117.64,144.01 L117.83,144.36 L118.02,144.72 L118.21,145.07 L118.40,145.43 L118.59,145.78 L118.78,146.13 L118.98,146.49 L119.17,146.84 L119.36,147.19 L119.56,147.55 L119.75,147.90 L119.95,148.25 L120.15,148.60 L120.34,148.96 L120.54,149.31 L120.74,149.66 L120.94,150.01 L121.14,150.36 L121.34,150.71 L121.54,151.06 L121.75,151.41 L121.95,151.76 L122.15,152.11 L122.36,152.46 L122.56,152.81 L122.77,153.16 L122.97,153.51 L123.18,153.86 L123.39,154.21 L123.60,154.56 L123.80,154.90 L124.01,155.25 L124.22,155.60 L124.44,155.95 L124.65,156.29 L124.86,156.64 L125.07,156.99 L125.29,157.33 L125.50,157.68 L125.72,158.02 L125.93,158.37 L126.15,158.71 L126.37,159.06 L126.59,159.40 L126.81,159.75 L127.03,160.09 L127.25,160.44 L127.47,160.78 L127.69,161.12 L127.91,161.47 L128.14,161.81 L128.36,162.15 L128.58,162.49 L128.81,162.84 L129.04,163.18 L129.26,163.52 L129.49,163.86 L129.72,164.20 L129.95,164.54 L130.18,164.88 L130.41,165.22 L130.64,165.56 L130.88,165.90 L131.11,166.24 L131.34,166.58 L131.58,166.92 L131.81,167.26 L132.05,167.59 L132.29,167.93 L132.53,168.26 L132.77,168.60 L133.01,168.93 L133.25,169.26 L133.49,169.59 L133.74,169.92 L133.98,170.25 L134.23,170.58 L134.48,170.90 L134.73,171.23 L134.97,171.55 L135.23,171.87 L135.48,172.19 L135.73,172.50 L135.99,172.82 L136.24,173.13 L136.50,173.44 L136.76,173.75 L137.02,174.06 L137.28,174.36 L137.54,174.66 L137.81,174.96 L138.07,175.26 L138.34,175.55 L138.61,175.85 L138.88,176.14 L139.15,176.42 L139.42,176.71 L139.70,176.99 L139.97,177.26 L140.25,177.54 L140.53,177.81 L140.81,178.08 L141.10,178.34 L141.38,178.61 L141.67,178.86 L141.96,179.12 L142.25,179.37 L142.54,179.62 L142.83,179.86 L143.13,180.10 L143.43,180.34 L143.73,180.57 L144.03,180.80 L144.33,181.02 L144.64,181.24 L144.95,181.46 L145.26,181.67 L145.57,181.88 L145.88,182.09 L146.20,182.29 L146.51,182.49 L146.83,182.69 L147.16,182.88 L147.48,183.07 L147.81,183.26 L148.14,183.44 L148.47,183.63 L148.80,183.81 L149.14,183.99 L149.47,184.17 L149.81,184.35 L150.16,184.52 L150.50,184.70 L150.85,184.87 L151.20,185.04 L151.55,185.22 L151.91,185.39 L152.26,185.56 L152.62,185.73 L152.98,185.90 L153.35,186.07 L153.72,186.24 L154.09,186.41 L154.46,186.59 L154.84,186.76 L155.21,186.93 L155.59,187.11 L155.98,187.28 L156.36,187.44 L156.74,187.60 L157.13,187.76 L157.52,187.91 L157.91,188.04 L158.29,188.17 L158.68,188.28 L159.07,188.39 L159.46,188.47 L159.84,188.54 L160.23,188.60 L160.61,188.63 L160.99,188.65 L161.37,188.64 L161.75,188.61 L162.12,188.56 L162.49,188.48 L162.86,188.38 L163.23,188.25 L163.59,188.08 L163.94,187.89 L164.30,187.69 L164.65,187.46 L165.00,187.22 L165.35,186.99 L165.70,186.75 L166.05,186.52 L166.40,186.31 L166.76,186.12 L167.11,185.95 L167.47,185.80 L167.84,185.66 L168.21,185.55 L168.58,185.44 L168.96,185.35 L169.35,185.27 L169.74,185.20 L170.14,185.12 L170.54,185.05 L170.92,184.96 L171.30,184.84 L171.66,184.70 L172.00,184.53 L172.32,184.31 L172.61,184.07 L172.89,183.79 L173.16,183.50 L173.41,183.18 L173.65,182.85 L173.89,182.51 L174.12,182.17 L174.35,181.82 L174.58,181.48 L174.82,181.15 L175.05,180.81 L175.29,180.48 L175.53,180.16 L175.77,179.84 L176.01,179.52 L176.25,179.20 L176.49,178.89 L176.74,178.58 L176.98,178.27 L177.23,177.96 L177.48,177.65 L177.73,177.35 L177.98,177.04 L178.23,176.74 L178.49,176.43 L178.74,176.12 L179.01,175.81 L179.27,175.49 L179.52,175.20 L179.72,174.95 L179.91,174.73 L180.10,174.50 L186.94,160.40 L193.02,141.15 L198.73,117.41 L204.49,89.61 L210.99,60.34 L216.40,35.45 L221.30,17.80 L227.20,27.92 L232.60,48.27 L238.13,76.51 L243.78,105.47 L249.52,131.16 L255.36,152.38 L261.53,169.32 L265.91,177.99 L266.11,178.33 L266.30,178.68 L266.50,179.02 L266.69,179.36 L266.89,179.71 L267.08,180.06 L267.27,180.41 L267.46,180.76 L267.65,181.11 L267.84,181.47 L268.03,181.82 L268.22,182.17 L268.41,182.53 L268.60,182.88 L268.80,183.24 L268.99,183.59 L269.19,183.94 L269.38,184.29 L269.58,184.65 L269.78,184.99 L269.99,185.34 L270.19,185.69 L270.40,186.03 L270.61,186.38 L270.83,186.72 L271.04,187.05 L271.27,187.39 L271.49,187.72 L271.72,188.05 L271.95,188.37 L272.19,188.70 L272.43,189.02 L272.68,189.33 L272.93,189.64 L273.19,189.94 L273.45,190.25 L273.72,190.54 L273.99,190.83 L274.27,191.12 L274.56,191.40 L274.85,191.68 L275.15,191.94 L275.45,192.21 L275.76,192.47 L276.07,192.72 L276.39,192.96 L276.71,193.20 L277.04,193.43 L277.37,193.65 L277.70,193.87 L278.04,194.07 L278.38,194.27 L278.73,194.47 L279.08,194.65 L279.44,194.83 L279.79,195.00 L280.15,195.17 L280.52,195.33 L280.88,195.48 L281.25,195.63 L281.63,195.77 L282.00,195.90 L282.38,196.03 L282.76,196.15 L283.14,196.27 L283.53,196.38 L283.91,196.49 L284.30,196.59 L284.69,196.68 L285.08,196.78 L285.47,196.87 L285.87,196.95 L286.26,197.04 L286.66,197.12 L287.05,197.20 L287.45,197.27 L287.85,197.35 L288.25,197.42 L288.65,197.49 L289.05,197.57 L289.45,197.64 L289.84,197.71 L290.24,197.78 L290.64,197.84 L291.04,197.91 L291.44,197.98 L291.84,198.04 L292.24,198.10 L292.63,198.15 L293.03,198.20 L293.43,198.24 L293.83,198.28 L294.23,198.32 L294.62,198.34 L295.02,198.36 L295.42,198.38 L295.82,198.38 L296.21,198.38 L296.61,198.36 L297.01,198.34 L297.40,198.32 L297.80,198.28 L298.20,198.24 L298.59,198.19 L298.99,198.13 L299.38,198.07 L299.78,198.01 L300.17,197.94 L300.57,197.86 L300.96,197.79 L301.36,197.71 L301.75,197.62 L302.15,197.54 L302.54,197.45 L302.93,197.36 L303.33,197.27 L303.72,197.18 L304.11,197.09 L304.50,197.00 L304.90,196.90 L305.29,196.81 L305.68,196.72 L306.07,196.63 L306.46,196.54 L306.85,196.46 L307.24,196.37 L307.63,196.29 L308.02,196.21 L308.41,196.14 L308.80,196.06 L309.19,195.99 L309.58,195.92 L309.96,195.84 L310.35,195.76 L310.73,195.69 L311.12,195.60 L311.50,195.52 L311.88,195.42 L312.26,195.32 L312.63,195.22 L313.01,195.10 L313.38,194.98 L313.75,194.84 L314.12,194.70 L314.49,194.55 L314.85,194.39 L315.22,194.22 L315.58,194.04 L315.94,193.86 L316.30,193.67 L316.65,193.48 L317.01,193.29 L317.37,193.09 L317.72,192.89 L318.07,192.68 L318.43,192.48 L318.78,192.28 L319.13,192.07 L319.48,191.87 L319.83,191.67 L320.18,191.46 L320.53,191.26 L320.88,191.05 L321.23,190.85 L321.57,190.64 L321.92,190.44 L322.27,190.24 L322.61,190.03 L322.96,189.83 L323.30,189.62 L323.65,189.42 L323.99,189.21 L324.33,189.00 L324.67,188.80 L325.02,188.59 L325.36,188.39 L325.70,188.18 L326.04,187.97 L326.38,187.77 L326.72,187.56 L327.06,187.35 L327.39,187.14 L327.73,186.94 L328.07,186.73 L328.41,186.52 L328.74,186.31 L329.08,186.10 L329.41,185.89 L329.75,185.68 L330.08,185.47 L330.41,185.26 L330.75,185.05 L331.08,184.84 L331.41,184.62 L331.74,184.41 L332.07,184.20 L332.40,183.99 L332.73,183.77 L333.06,183.56 L333.39,183.34 L333.72,183.13 L334.05,182.91 L334.38,182.70 L334.70,182.48 L335.03,182.26 L335.36,182.04 L335.68,181.83 L336.01,181.61 L336.33,181.39 L336.65,181.17 L336.98,180.95 L337.30,180.73 L337.62,180.50 L337.95,180.28 L338.27,180.06 L338.59,179.84 L338.91,179.61 L339.23,179.39 L339.55,179.16 L339.87,178.93 L340.19,178.71 L340.51,178.48 L340.82,178.25 L341.14,178.02 L341.46,177.79 L341.78,177.56 L342.09,177.33 L342.41,177.10 L342.72,176.86 L343.04,176.63 L343.35,176.40 L343.67,176.16 L343.98,175.92 L344.29,175.69 L344.61,175.45 L344.92,175.21 L345.23,174.97 L345.54,174.73 L345.85,174.49 L346.16,174.25 L346.47,174.00 L346.78,173.76 L347.09,173.51 L347.40,173.27 L347.71,173.02 L348.02,172.77 L348.33,172.52 L348.63,172.27 L348.94,172.02 L349.25,171.77 L349.55,171.52 L349.86,171.26 L350.17,171.01 L350.47,170.75 L350.77,170.50 L351.08,170.24 L351.38,169.98 L351.69,169.72 L351.99,169.46 L352.29,169.20 L352.59,168.94 L352.90,168.68 L353.20,168.42 L353.50,168.15 L353.80,167.89 L354.10,167.62 L354.40,167.36 L354.70,167.09 L355.00,166.82 L355.30,166.55 L355.60,166.28 L355.89,166.01 L356.19,165.74 L356.49,165.47 L356.79,165.20 L357.08,164.92 L357.38,164.65 L357.68,164.37 L357.97,164.10 L358.27,163.82 L358.56,163.55 L358.86,163.27 L359.15,162.99 L359.45,162.71 L359.74,162.44 L360.03,162.16 L360.33,161.88 L360.62,161.59 L360.91,161.31 L361.20,161.03 L361.50,160.75 L361.79,160.47 L362.08,160.18 L362.37,159.90 L362.66,159.61 L362.95,159.33 L363.24,159.04 L363.53,158.76 L363.82,158.47 L364.11,158.18 L364.40,157.90 L364.68,157.61 L364.97,157.32 L365.26,157.03 L365.55,156.74 L365.84,156.45 L366.12,156.16 L366.41,155.87 L366.70,155.58 L366.98,155.29 L367.27,155.00 L367.55,154.71 L367.84,154.41 L368.12,154.12 L368.41,153.83 L368.69,153.53 L368.98,153.24 L369.26,152.95 L369.54,152.65 L369.83,152.36 L370.11,152.06 L370.39,151.77 L370.67,151.47 L370.96,151.18 L371.24,150.88 L371.52,150.59 L371.80,150.29 L372.08,149.99 L372.36,149.70 L372.65,149.40 L372.93,149.10 L373.21,148.81 L373.49,148.51 L373.77,148.21 L374.05,147.92 L374.32,147.62 L374.60,147.32 L374.88,147.02 L375.16,146.72 L375.44,146.43 L375.72,146.13 L376.00,145.83 L376.27,145.53 L376.55,145.23 L376.83,144.94 L377.10,144.64 L377.38,144.34 L377.66,144.04 L377.93,143.74 L378.21,143.44 L378.49,143.15 L378.76,142.85 L379.04,142.55 L379.31,142.25 L379.59,141.95 L379.86,141.65 L380.14,141.36 L380.41,141.06 L380.69,140.76 L380.96,140.46 L381.24,140.17 L381.51,139.87 L381.78,139.57 L382.06,139.27 L382.33,138.98 L382.60,138.68 L382.88,138.38 L383.15,138.09 L383.42,137.79 L383.69,137.49 L383.97,137.20 L384.24,136.90 L384.51,136.61 L384.78,136.31 L385.05,136.02 L385.33,135.72 L385.60,135.43 L385.87,135.13 L386.14,134.84 L386.41,134.55 L386.68,134.25 L386.95,133.96 L387.22,133.67 L387.49,133.38 L387.76,133.08 L388.03,132.79 L388.30,132.50 L388.57,132.21 L388.84,131.92 L389.11,131.63 L389.38,131.34 L389.65,131.05 L389.92,130.76 L390.19,130.47 L390.45,130.19 L390.72,129.90 L390.99,129.61 L391.26,129.32 L391.53,129.04 L391.80,128.75 L392.07,128.47 L392.33,128.18 L392.60,127.90 L392.87,127.61 L393.14,127.33 L393.40,127.05 L393.67,126.77 L393.94,126.49 L394.21,126.21 L394.47,125.93 L394.74,125.65 L395.01,125.37 L395.27,125.09 L395.54,124.81 L395.81,124.53 L396.07,124.26 L396.34,123.98 L396.61,123.71 L396.87,123.43 L397.14,123.16 L397.42,122.87 L397.69,122.59 L397.94,122.34 L398.14,122.14 L398.30,121.97 L398.47,121.80" stroke="#ffa500" stroke-width="1.12" fill="none" stroke-linejoin="miter"/>
</g>
<rect x="45.20" y="239.96" width="4.2" height="4.4" fill="#0000ff"/>
<rect x="50.74" y="239.63" width="4.2" height="4.4" fill="#0000ff"/>
<rect x="56.27" y="239.27" width="4.2" height="4.4" fill="#0000ff"/>
<rect x="61.81" y="238.87" width="4.2" height="4.4" fill="#0000ff"/>
<rect x="67.35" y="238.43" width="4.2" height="4.4" fill="#0000ff"/>
<rect x="72.89" y="237.94" width="4.2" height="4.4" fill="#0000ff"/>
<rect x="78.42" y="237.39" width="4.2" height="4.4" fill="#0000ff"/>
<rect x="83.96" y="236.78" width="4.2" height="4.4" fill="#0000ff"/>
<rect x="89.50" y="236.10" width="4.2" height="4.4" fill="#0000ff"/>
<rect x="95.03" y="235.32" width="4.2" height="4.4" fill="#0000ff"/>
<rect x="100.57" y="234.45" width="4.2" height="4.4" fill="#0000ff"/>
<rect x="106.11" y="233.45" width="4.2" height="4.4" fill="#0000ff"/>
<rect x="111.64" y="232.31" width="4.2" height="4.4" fill="#0000ff"/>
<rect x="117.18" y="230.99" width="4.2" height="4.4" fill="#0000ff"/>
<rect x="122.72" y="229.46" width="4.2" height="4.4" fill="#0000ff"/>
<rect x="128.25" y="227.68" width="4.2" height="4.4" fill="#0000ff"/>
<rect x="133.79" y="225.59" width="4.2" height="4.4" fill="#0000ff"/>
<rect x="139.33" y="223.11" width="4.2" height="4.4" fill="#0000ff"/>
<rect x="144.87" y="220.14" width="4.2" height="4.4" fill="#0000ff"/>
<rect x="150.40" y="216.57" width="4.2" height="4.4" fill="#0000ff"/>
<rect x="155.94" y="212.21" width="4.2" height="4.4" fill="#0000ff"/>
<rect x="161.48" y="206.85" width="4.2" height="4.4" fill="#0000ff"/>
<rect x="167.01" y="200.17" width="4.2" height="4.4" fill="#0000ff"/>
<rect x="172.55" y="191.79" width="4.2" height="4.4" fill="#0000ff"/>
<rect x="178.09" y="181.16" width="4.2" height="4.4" fill="#0000ff"/>
<rect x="183.63" y="167.51" width="4.2" height="4.4" fill="#0000ff"/>
<rect x="189.16" y="149.62" width="4.2" height="4.4" fill="#0000ff"/>
<rect x="194.70" y="127.08" width="4.2" height="4.4" fill="#0000ff"/>
<rect x="200.24" y="99.96" width="4.2" height="4.4" fill="#0000ff"/>
<rect x="205.77" y="70.17" width="4.2" height="4.4" fill="#0000ff"/>
<rect x="211.31" y="41.58" width="4.2" height="4.4" fill="#0000ff"/>
<rect x="216.85" y="22.10" width="4.2" height="4.4" fill="#0000ff"/>
<rect x="222.38" y="19.42" width="4.2" height="4.4" fill="#0000ff"/>
<rect x="227.92" y="34.74" width="4.2" height="4.4" fill="#0000ff"/>
<rect x="233.46" y="61.66" width="4.2" height="4.4" fill="#0000ff"/>
<rect x="238.99" y="91.73" width="4.2" height="4.4" fill="#0000ff"/>
<rect x="244.53" y="119.78" width="4.2" height="4.4" fill="#0000ff"/>
<rect x="250.07" y="143.73" width="4.2" height="4.4" fill="#0000ff"/>
<rect x="255.61" y="162.87" width="4.2" height="4.4" fill="#0000ff"/>
<rect x="261.14" y="177.65" width="4.2" height="4.4" fill="#0000ff"/>
<rect x="266.68" y="189.03" width="4.2" height="4.4" fill="#0000ff"/>
<rect x="272.22" y="197.99" width="4.2" height="4.4" fill="#0000ff"/>
<rect x="277.75" y="205.10" width="4.2" height="4.4" fill="#0000ff"/>
<rect x="283.29" y="210.80" width="4.2" height="4.4" fill="#0000ff"/>
<rect x="288.83" y="215.42" width="4.2" height="4.4" fill="#0000ff"/>
<rect x="294.36" y="219.20" width="4.2" height="4.4" fill="#0000ff"/>
<rect x="299.90" y="222.32" width="4.2" height="4.4" fill="#0000ff"/>
<rect x="305.44" y="224.93" width="4.2" height="4.4" fill="#0000ff"/>
<rect x="310.98" y="227.12" width="4.2" height="4.4" fill="#0000ff"/>
<rect x="316.51" y="228.99" width="4.2" height="4.4" fill="#0000ff"/>
<rect x="322.05" y="230.58" width="4.2" height="4.4" fill="#0000ff"/>
<rect x="327.59" y="231.95" width="4.2" height="4.4" fill="#0000ff"/>
<rect x="333.12" y="233.14" width="4.2" height="4.4" fill="#0000ff"/>
<rect x="338.66" y="234.18" width="4.2" height="4.4" fill="#0000ff"/>
<rect x="344.20" y="235.09" width="4.2" height="4.4" fill="#0000ff"/>
<rect x="349.73" y="235.89" width="4.2" height="4.4" fill="#0000ff"/>
<rect x="355.27" y="236.60" width="4.2" height="4.4" fill="#0000ff"/>
<rect x="360.81" y="237.23" width="4.2" height="4.4" fill="#0000ff"/>
<rect x="366.35" y="237.79" width="4.2" height="4.4" fill="#0000ff"/>
<rect x="371.88" y="238.30" width="4.2" height="4.4" fill="#0000ff"/>
<rect x="377.42" y="238.75" width="4.2" height="4.4" fill="#0000ff"/>
<rect x="382.96" y="239.16" width="4.2" height="4.4" fill="#0000ff"/>
<rect x="388.49" y="239.53" width="4.2" height="4.4" fill="#0000ff"/>
<rect x="394.03" y="239.87" width="4.2" height="4.4" fill="#0000ff"/>
<g clip-path="url(#c)">
<path d="M43.65,242.36 L48.55,242.09 L53.45,241.79 L58.35,241.47 L63.25,241.12 L68.15,240.74 L73.05,240.32 L77.95,239.85 L82.85,239.34 L87.75,238.78 L92.65,238.16 L97.55,237.46 L102.45,236.68 L107.35,235.81 L112.25,234.83 L117.15,233.72 L122.05,232.45 L126.95,231.01 L131.85,229.35 L136.75,227.43 L141.65,225.20 L146.55,222.59 L151.45,219.50 L156.35,215.83 L161.25,211.44 L166.15,206.13 L171.05,199.66 L175.95,191.72 L180.85,181.91 L185.75,169.73 L190.65,154.63 L195.55,136.06 L200.45,113.76 L205.35,88.25 L210.25,61.65 L215.15,38.35 L220.05,24.36 L224.95,24.36 L229.85,38.35 L234.75,61.65 L239.65,88.25 L244.55,113.76 L249.45,136.06 L254.35,154.63 L259.25,169.73 L264.15,181.91 L269.05,191.72 L273.95,199.66 L278.85,206.13 L283.75,211.44 L288.65,215.83 L293.55,219.50 L298.45,222.59 L303.35,225.20 L308.25,227.43 L313.15,229.35 L318.05,231.01 L322.95,232.45 L327.85,233.72 L332.75,234.83 L337.65,235.81 L342.55,236.68 L347.45,237.46 L352.35,238.16 L357.25,238.78 L362.15,239.34 L367.05,239.85 L371.95,240.32 L376.85,240.74 L381.75,241.12 L386.65,241.47 L391.55,241.79 L396.45,242.09 L401.35,242.36" stroke="#000" stroke-width="1.7" fill="none" stroke-linejoin="miter"/>
</g>
<rect x="46.5" y="0.45" width="352.0" height="246.8" fill="none" stroke="#000" stroke-width="0.85"/>
<path d="M134.50,247.25 v-4.4 M134.50,0.0 v4.4" stroke="#000" stroke-width="0.85"/>
<path d="M222.50,247.25 v-4.4 M222.50,0.0 v4.4" stroke="#000" stroke-width="0.85"/>
<path d="M310.50,247.25 v-4.4 M310.50,0.0 v4.4" stroke="#000" stroke-width="0.85"/>
<path d="M46.5,172.33 h4 M398.5,172.33 h-4" stroke="#000" stroke-width="0.85"/>
<path d="M46.5,97.40 h4 M398.5,97.40 h-4" stroke="#000" stroke-width="0.85"/>
<path d="M46.5,22.48 h4 M398.5,22.48 h-4" stroke="#000" stroke-width="0.85"/>
<text transform="translate(48.20,267.70) scale(1,1.09)" text-anchor="middle" font-size="15.4">0.2</text>
<text transform="translate(136.20,267.70) scale(1,1.09)" text-anchor="middle" font-size="15.4">0.3</text>
<text transform="translate(224.20,267.70) scale(1,1.09)" text-anchor="middle" font-size="15.4">0.4</text>
<text transform="translate(312.20,267.70) scale(1,1.09)" text-anchor="middle" font-size="15.4">0.5</text>
<text transform="translate(400.20,267.70) scale(1,1.09)" text-anchor="middle" font-size="15.4">0.6</text>
<text transform="translate(37.60,252.95) scale(1,1.09)" text-anchor="end" font-size="15.4">0</text>
<text transform="translate(37.60,178.03) scale(1,1.09)" text-anchor="end" font-size="15.4">1</text>
<text transform="translate(37.60,103.10) scale(1,1.09)" text-anchor="end" font-size="15.4">2</text>
<text transform="translate(37.60,28.18) scale(1,1.09)" text-anchor="end" font-size="15.4">3</text>
<text transform="translate(203.00,283.40) scale(1,1.12)" text-anchor="start" font-size="15" letter-spacing="0.15">(arb. u.)</text>
<text transform="translate(188.3,283.4) scale(1.21,1.12)" font-family="Liberation Serif" font-size="15">ω</text>
<g transform="translate(17.0,175.0) rotate(-90) scale(1,1.12)"><text text-anchor="start" font-size="15">Re<tspan x="31.0" font-size="11.6" dy="3.8">LP</tspan><tspan dy="-3.8" letter-spacing="0.2"> (arb. u.)</tspan></text></g>
<path transform="translate(17.0,152.0) rotate(-90)" d="M2.6,-11.9 C1.2,-11.6 0.6,-10.6 1.8,-10.3 L6.6,-9.8 M5.0,-9.8 C2.0,-9.9 1.0,-8.6 1.0,-7.6 C1.0,-6.2 2.8,-5.6 5.6,-5.6 M5.0,-5.6 C2.0,-5.6 0.4,-4.2 0.4,-2.8 C0.4,-1.2 2.4,-0.9 4.6,-0.9 C6.4,-0.9 7.0,0.0 6.6,1.0 C6.3,1.9 5.2,2.2 4.2,1.7" stroke="#000" stroke-width="0.92" fill="none" stroke-linecap="round" stroke-linejoin="round"/>
<path d="M2.5,146.5 L0.3,148.3 L2.5,150.1" stroke="#000" stroke-width="1.05" fill="none"/>
<text transform="translate(330.30,15.90) scale(1,1.02)" text-anchor="end" font-size="12.35">FFTW3: dt=0.1</text>
<path d="M339.6,11.55 H380.3" stroke="#ff0000" stroke-width="1.1"/>
<text transform="translate(330.30,31.20) scale(1,1.02)" text-anchor="end" font-size="12.35">FFTW3: dt=0.2</text>
<path d="M339.6,26.95 H380.3" stroke="#006400" stroke-width="1.1"/>
<text transform="translate(330.30,46.50) scale(1,1.02)" text-anchor="end" font-size="12.35">FFTW3: dt=0.3</text>
<path d="M339.6,42.30 H380.3" stroke="#ffa500" stroke-width="1.1"/>
<text transform="translate(330.22,61.80) scale(1,1.02)" text-anchor="end" font-size="12.35" letter-spacing="-0.085">Simpson: dt=0.3</text>
<rect x="357.95" y="55.45" width="4.2" height="4.4" fill="#0000ff"/>
<text transform="translate(330.18,77.10) scale(1,1.02)" text-anchor="end" font-size="12.35" letter-spacing="-0.12">exact</text>
<path d="M339.6,72.75 H380.3" stroke="#000" stroke-width="1.6"/>
</svg>
</body></html>
